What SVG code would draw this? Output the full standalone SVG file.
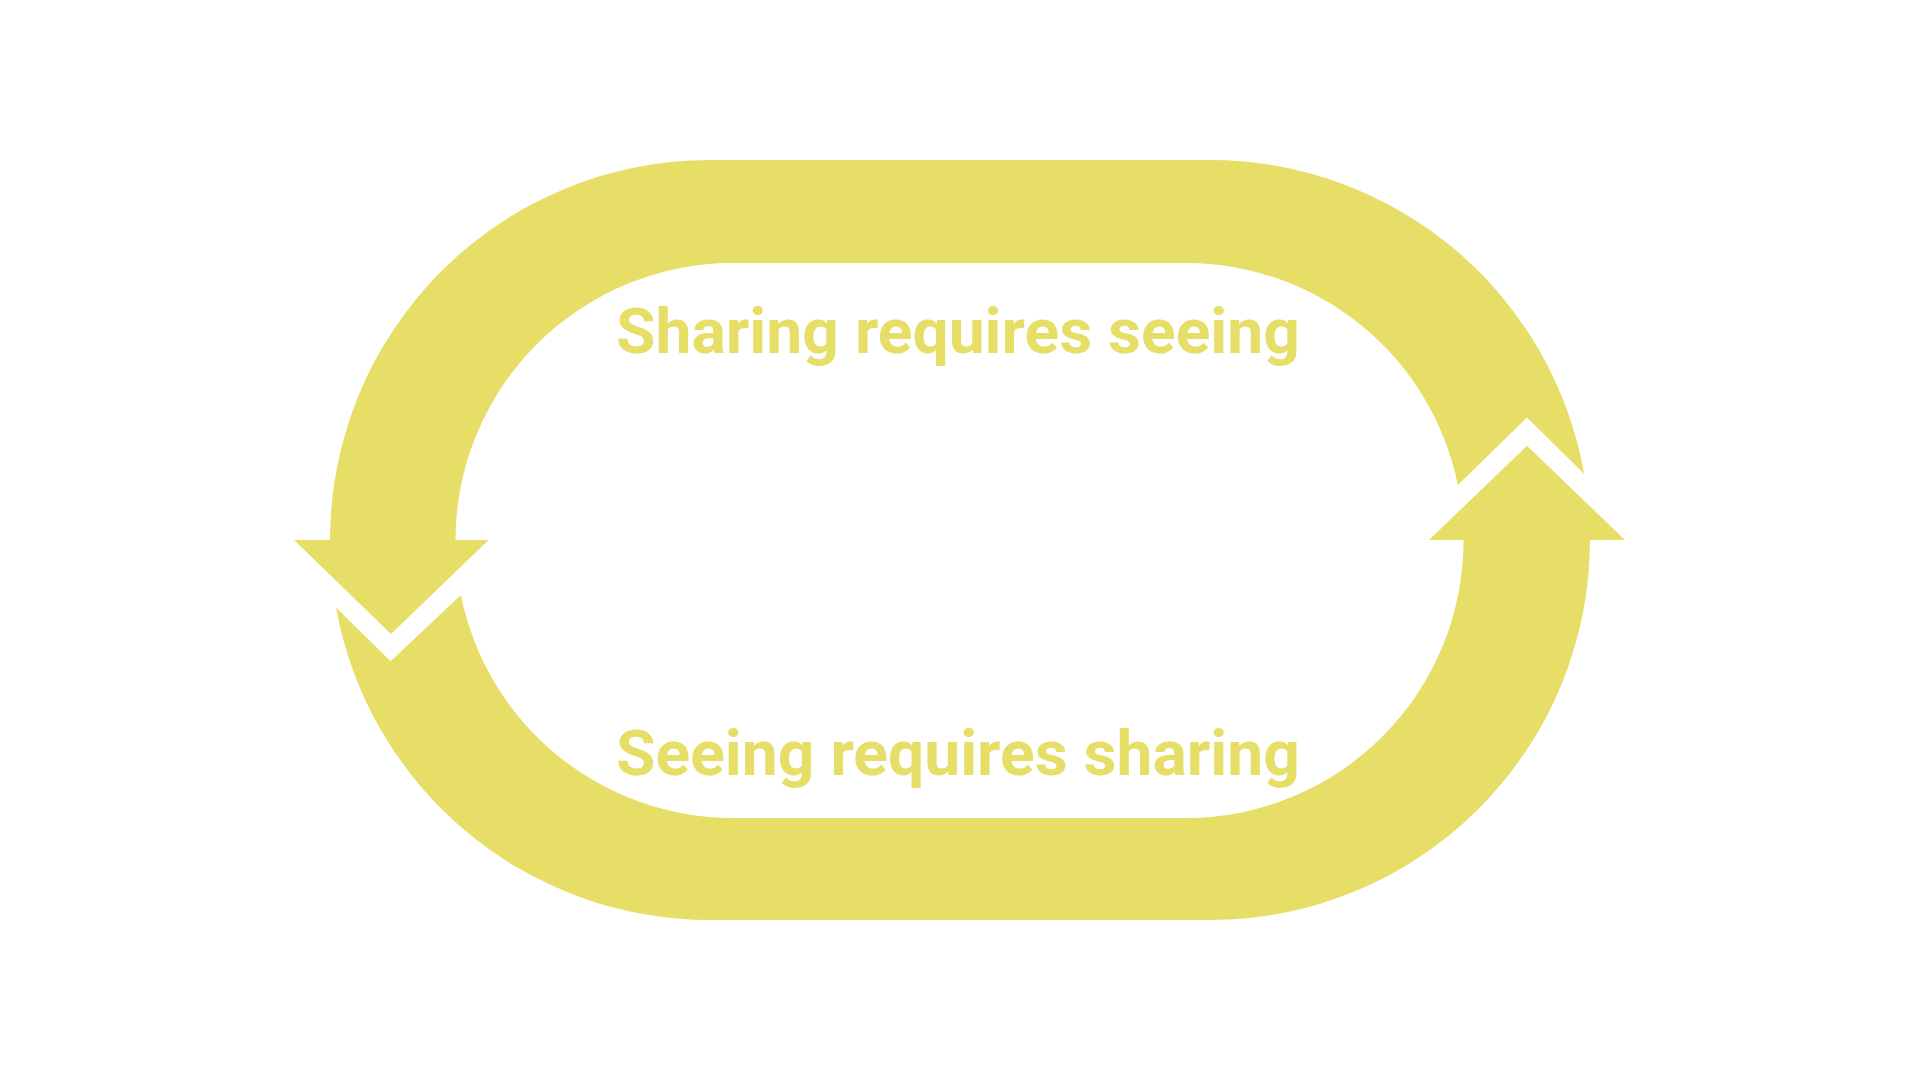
<svg xmlns="http://www.w3.org/2000/svg" width="1920" height="1080" viewBox="0 0 1920 1080">
<style>
.band{fill:#E7DE67;stroke:none}
.lbl{font-family:Roboto,Inter,"Liberation Sans",sans-serif;font-weight:bold;font-size:63px;fill:#E7DE67}
</style>
<rect width="1920" height="1080" fill="#ffffff"/>
<g id="connectors">
<path class="band" d="M 1584.2 473.9 A 380 380 0 0 0 1210 160 L 710 160 A 380 380 0 0 0 330 540 L 294 540 L 391 634 L 488.6 540 L 455.5 540 A 277.5 277.5 0 0 1 733 263 L 1186 263 A 277.5 277.5 0 0 1 1457.9 485 L 1527 417.6 Z"/>
<path class="band" d="M 336 607.4 A 380 380 0 0 0 710 920 L 1210 920 A 380 380 0 0 0 1590 540 L 1625 540 L 1527 445.7 L 1429 540 L 1463.5 540 A 277.5 277.5 0 0 1 1186 818 L 733 818 A 277.5 277.5 0 0 1 460.9 595.1 L 390.6 661.2 Z"/>
</g>
<g id="node-top">
<text class="lbl" x="616" y="352.6" textLength="684" lengthAdjust="spacingAndGlyphs">Sharing requires seeing</text>
</g>
<g id="node-bottom">
<text class="lbl" x="616" y="775" textLength="684" lengthAdjust="spacingAndGlyphs">Seeing requires sharing</text>
</g>
</svg>
